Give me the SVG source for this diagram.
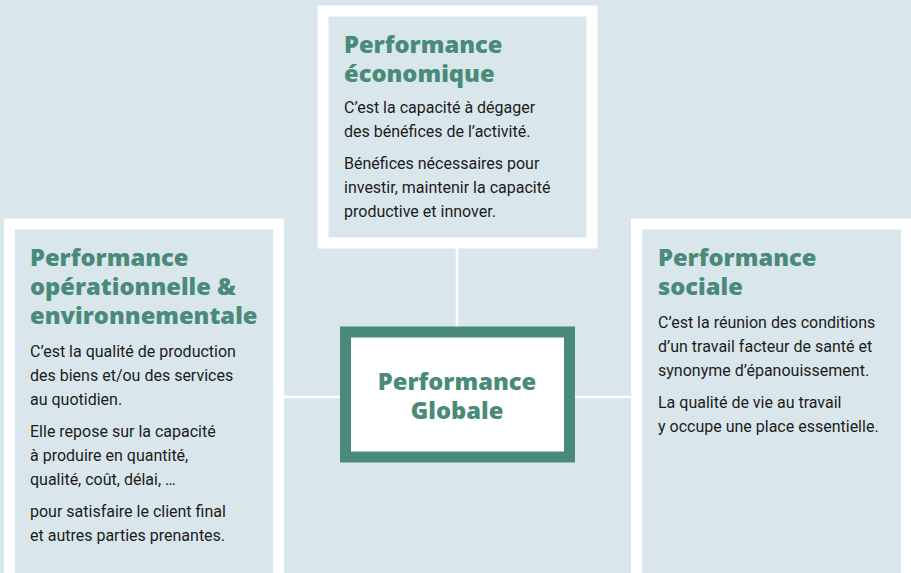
<svg xmlns="http://www.w3.org/2000/svg" width="911" height="573" viewBox="0 0 911 573">
<style>
.bg{fill:#d9e7ec}
.box{fill:#d9e7ec;stroke:#ffffff;stroke-width:11}
.h{font-family:"Open Sans","DejaVu Sans",sans-serif;font-weight:800;font-size:23.7px;fill:#4a8a78}
.b{font-family:Roboto,"Liberation Sans",sans-serif;font-size:16px;fill:#1c1c1c}
.c{fill:none;stroke:#ffffff;stroke-width:2.5}
</style>
<rect class="bg" x="0" y="0" width="911" height="573"/>
<g id="connectors">
<line class="c" x1="457" y1="248" x2="457" y2="327"/>
<line class="c" x1="284" y1="397" x2="340" y2="397"/>
<line class="c" x1="574" y1="397" x2="631" y2="397"/>
</g>
<g id="eco">
<rect class="box" x="323" y="11" width="269" height="232"/>
<text class="h" x="344" y="53">Performance</text>
<text class="h" x="344" y="82">économique</text>
<text class="b" x="344" y="113">C’est la capacité à dégager</text>
<text class="b" x="344" y="137">des bénéfices de l’activité.</text>
<text class="b" x="344" y="169">Bénéfices nécessaires pour</text>
<text class="b" x="344" y="193">investir, maintenir la capacité</text>
<text class="b" x="344" y="217">productive et innover.</text>
</g>
<g id="ope">
<rect class="box" x="9.5" y="224" width="269" height="360"/>
<text class="h" x="30" y="266">Performance</text>
<text class="h" x="30" y="295">opérationnelle &amp;</text>
<text class="h" x="30" y="324">environnementale</text>
<text class="b" x="30" y="357">C’est la qualité de production</text>
<text class="b" x="30" y="381">des biens et/ou des services</text>
<text class="b" x="30" y="405">au quotidien.</text>
<text class="b" x="30" y="437">Elle repose sur la capacité</text>
<text class="b" x="30" y="461">à produire en quantité,</text>
<text class="b" x="30" y="485">qualité, coût, délai, …</text>
<text class="b" x="30" y="517">pour satisfaire le client final</text>
<text class="b" x="30" y="541">et autres parties prenantes.</text>
</g>
<g id="soc">
<rect class="box" x="636.5" y="224" width="270" height="360"/>
<text class="h" x="658" y="266">Performance</text>
<text class="h" x="658" y="295">sociale</text>
<text class="b" x="658" y="328">C’est la réunion des conditions</text>
<text class="b" x="658" y="352">d’un travail facteur de santé et</text>
<text class="b" x="658" y="376">synonyme d’épanouissement.</text>
<text class="b" x="658" y="408">La qualité de vie au travail</text>
<text class="b" x="658" y="432">y occupe une place essentielle.</text>
</g>
<g id="globale">
<rect x="345.5" y="332" width="224" height="125" fill="#ffffff" stroke="#4a8a78" stroke-width="11"/>
<text class="h" x="457" y="390" text-anchor="middle">Performance</text>
<text class="h" x="457" y="419" text-anchor="middle">Globale</text>
</g>
</svg>
